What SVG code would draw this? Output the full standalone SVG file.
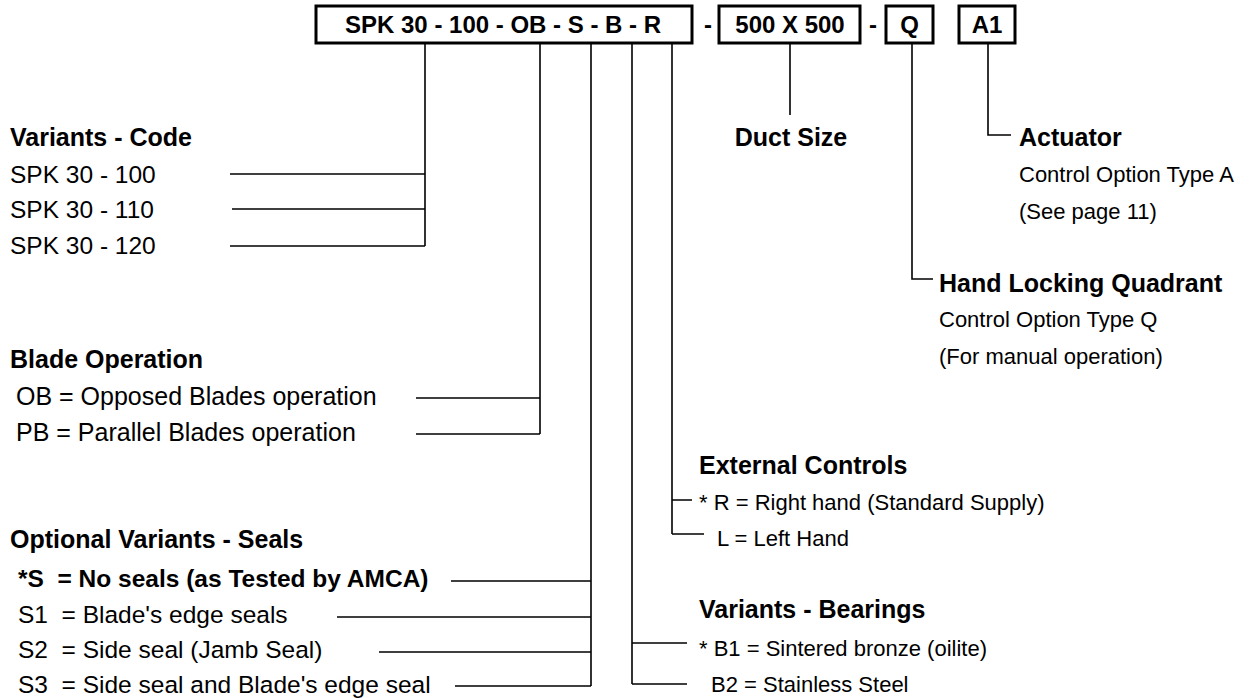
<svg xmlns="http://www.w3.org/2000/svg" width="1251" height="698" viewBox="0 0 1251 698">
<style>
text{font-family:"Liberation Sans",Arial,sans-serif;fill:#000}
.b{font-weight:bold;font-size:25px}
.bx{font-weight:bold;font-size:24px}
.l{font-size:24.5px}
.r{font-size:22px}
.box{fill:#fff;stroke:#000;stroke-width:3}
.c{fill:none;stroke:#000;stroke-width:1.6}
</style>
<rect width="1251" height="698" fill="#fff"/>
<g id="code">
<rect class="box" x="316" y="6" width="376" height="37"/>
<text class="bx" x="345" y="33">SPK 30 - 100 - OB - S - B - R</text>
<text class="bx" x="708" y="33" text-anchor="middle">-</text>
<rect class="box" x="719" y="6" width="141" height="37"/>
<text class="bx" x="790" y="33" text-anchor="middle">500 X 500</text>
<text class="bx" x="873" y="33" text-anchor="middle">-</text>
<rect class="box" x="886" y="6" width="47" height="37"/>
<text class="bx" x="909.5" y="33" text-anchor="middle">Q</text>
<rect class="box" x="959" y="6" width="56" height="37"/>
<text class="bx" x="987" y="33" text-anchor="middle">A1</text>
</g>
<g id="connectors">
<path class="c" d="M425 43V246M230 174H425M232 209H425M230 246H425"/>
<path class="c" d="M540 43V434M416 398H540M416 434H540"/>
<path class="c" d="M591 43V686M451 581H591M337 617H591M379 652H591M455 686H591"/>
<path class="c" d="M632 43V684M632 643H687M632 684H687"/>
<path class="c" d="M672 43V534M672 500H692M672 534H704"/>
<path class="c" d="M790 43V115"/>
<path class="c" d="M912 43V279H933"/>
<path class="c" d="M988 43V135H1011"/>
</g>
<g id="variants-code">
<text class="b" x="10" y="146">Variants - Code</text>
<text class="l" x="10" y="183">SPK 30 - 100</text>
<text class="l" x="10" y="218">SPK 30 - 110</text>
<text class="l" x="10" y="254">SPK 30 - 120</text>
</g>
<g id="blade-operation">
<text class="b" x="10" y="368">Blade Operation</text>
<text class="l" x="16" y="405" style="font-size:25px">OB = Opposed Blades operation</text>
<text class="l" x="16" y="441" style="font-size:25px">PB = Parallel Blades operation</text>
</g>
<g id="seals">
<text class="b" x="10" y="548">Optional Variants - Seals</text>
<text class="l" x="18" y="587" xml:space="preserve" style="font-weight:bold">*S  = No seals (as Tested by AMCA)</text>
<text class="l" x="18" y="623" xml:space="preserve">S1  = Blade's edge seals</text>
<text class="l" x="18" y="658" xml:space="preserve">S2  = Side seal (Jamb Seal)</text>
<text class="l" x="18" y="693" xml:space="preserve">S3  = Side seal and Blade's edge seal</text>
</g>
<g id="external-controls">
<text class="b" x="699" y="474">External Controls</text>
<text class="r" x="699" y="510">* R = Right hand (Standard Supply)</text>
<text class="r" x="717" y="546">L = Left Hand</text>
</g>
<g id="bearings">
<text class="b" x="699" y="618">Variants - Bearings</text>
<text class="r" x="699" y="656">* B1 = Sintered bronze (oilite)</text>
<text class="r" x="711" y="692">B2 = Stainless Steel</text>
</g>
<g id="duct-size">
<text class="b" x="791" y="146" text-anchor="middle">Duct Size</text>
</g>
<g id="quadrant">
<text class="b" x="939" y="292">Hand Locking Quadrant</text>
<text class="r" x="939" y="327">Control Option Type Q</text>
<text class="r" x="939" y="364">(For manual operation)</text>
</g>
<g id="actuator">
<text class="b" x="1019" y="146">Actuator</text>
<text class="r" x="1019" y="182">Control Option Type A</text>
<text class="r" x="1019" y="219">(See page 11)</text>
</g>
</svg>
